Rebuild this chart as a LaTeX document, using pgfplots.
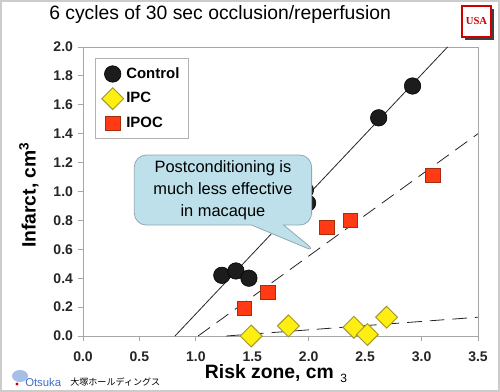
\documentclass[border=0pt]{standalone}
\usepackage{pgfplots}
\pgfplotsset{compat=1.18}
\usepackage{fontspec}
\setmainfont{Liberation Sans}
\newfontfamily\cjk{Noto Sans CJK JP}
\newfontfamily\serif{Liberation Serif}
\usetikzlibrary{shapes.callouts}
\definecolor{ipcfill}{HTML}{FFEE11}
\definecolor{ipcdraw}{HTML}{9E9530}
\definecolor{ipocfill}{HTML}{FF3A14}
\definecolor{ipocdraw}{HTML}{A03010}
\definecolor{ctrl}{HTML}{1C1C1C}
\definecolor{calloutfill}{HTML}{BDE0EA}
\definecolor{calloutdraw}{HTML}{8FA9B0}
\definecolor{otsuka}{HTML}{3C6FC8}
\begin{document}
\begin{tikzpicture}[x=0.75pt,y=0.75pt]
\useasboundingbox (0,0) rectangle (500,392);
\fill[white] (0,0) rectangle (500,392);
\draw[gray!40, line width=1.5pt] (0.75,0.75) rectangle (499.25,391.25);
\node[anchor=west, inner sep=0pt, font=\fontsize{14.5}{17}\selectfont] at (49,377) {6 cycles of 30 sec occlusion/reperfusion};
% USA logo
\fill[black!75] (465,352) rectangle (494,383);
\fill[white] (462,355) rectangle (491,386);
\draw[red!80!black, line width=1.8pt] (462,355) rectangle (491,386);
\node[text=red!80!black, font=\serif\bfseries\fontsize{8}{9}\selectfont, inner sep=0pt] at (476.5,370.5) {USA};
% Otsuka logo
\fill[otsuka!45] (20,16) ellipse (8 and 6);
\fill[red!80!black] (17,8) circle (1.6);
\node[anchor=west, inner sep=0pt, text=otsuka, font=\fontsize{8.5}{10}\selectfont] at (25,10) {Otsuka};
\node[anchor=west, inner sep=0pt, font=\cjk\fontsize{6.8}{8}\selectfont] at (70,10) {大塚ホールディングス};
\begin{axis}[
  at={(62.25pt,42pt)}, anchor=south west,
  scale only axis, width=296.25pt, height=216.75pt,
  xmin=0, xmax=3.5, ymin=0, ymax=2.0,
  xtick={0,0.5,1,1.5,2,2.5,3,3.5},
  ytick={0,0.2,0.4,0.6,0.8,1.0,1.2,1.4,1.6,1.8,2.0},
  xtick pos=bottom, ytick pos=left,
  tick align=outside, major tick length=4pt,
  axis line style={gray!70}, tick style={gray!70, line width=0.6pt},
  /pgf/number format/assume math mode=true,
  /pgf/number format/.cd, fixed, fixed zerofill, precision=1, /pgfplots/.cd,
  ticklabel style={font=\bfseries\fontsize{10.5}{12}\selectfont, text=black!85},
  xticklabel style={yshift=-4pt},
  clip=false,
  legend style={at={(0.03,0.962)}, anchor=north west, draw=gray!60,
    font=\bfseries\fontsize{11.2}{13}\selectfont, row sep=3.5pt,
    inner xsep=5pt, inner ysep=5pt, cells={anchor=west}},
  legend cell align=left,
]
\addplot[black!85, line width=0.6pt, forget plot] coordinates {(0.815,0) (3.23,2.0)};
\addplot[black!85, line width=0.6pt, dash pattern=on 11pt off 6pt, forget plot] coordinates {(1.02,0) (3.5,1.40)};
\addplot[black!85, line width=0.6pt, dash pattern=on 11pt off 6pt, forget plot] coordinates {(1.27,0) (3.5,0.13)};
\addplot[only marks, mark=*, mark size=6.2pt, mark options={fill=ctrl, draw=black}] coordinates {
(1.23,0.42) (1.355,0.45) (1.47,0.40) (1.97,1.01) (1.99,0.92) (2.62,1.51) (2.92,1.73)};
\addlegendentry{Control}
\addplot[only marks, mark=square*, mark size=5.8pt, mark options={rotate=45, fill=ipcfill, draw=ipcdraw, line width=0.7pt}] coordinates {
(1.49,0.0) (1.82,0.07) (2.40,0.06) (2.52,0.01) (2.69,0.13)};
\addlegendentry{IPC}
\addplot[only marks, mark=square*, mark size=5.4pt, mark options={fill=ipocfill, draw=ipocdraw, line width=0.6pt}] coordinates {
(1.43,0.19) (1.64,0.30) (2.16,0.75) (2.37,0.80) (3.10,1.11)};
\addlegendentry{IPOC}
\coordinate (tip) at (axis cs:2.07,0.58);
\coordinate (cc) at (axis cs:1.24,1.01);
\end{axis}
\node[rectangle callout, rounded corners=9pt, fill=calloutfill, draw=calloutdraw, line width=0.6pt,
  minimum width=133pt, minimum height=52.5pt, align=center, inner sep=2pt,
  font=\fontsize{12.3}{16.3}\selectfont,
  callout absolute pointer={(tip)}, callout pointer width=24pt] at (cc)
  {Postconditioning is\\much less effective\\in macaque};
\node[font=\fontsize{14.5}{17}\selectfont, inner sep=0pt] at (276,18) {\bfseries Risk zone, cm\,\,{\mdseries\fontsize{9}{10}\selectfont\raisebox{-3pt}{3}}};
\node[rotate=90, font=\bfseries\fontsize{14.5}{17}\selectfont, inner sep=0pt] at (29,197) {Infarct, cm\textsuperscript{3}};
\end{tikzpicture}
\end{document}
